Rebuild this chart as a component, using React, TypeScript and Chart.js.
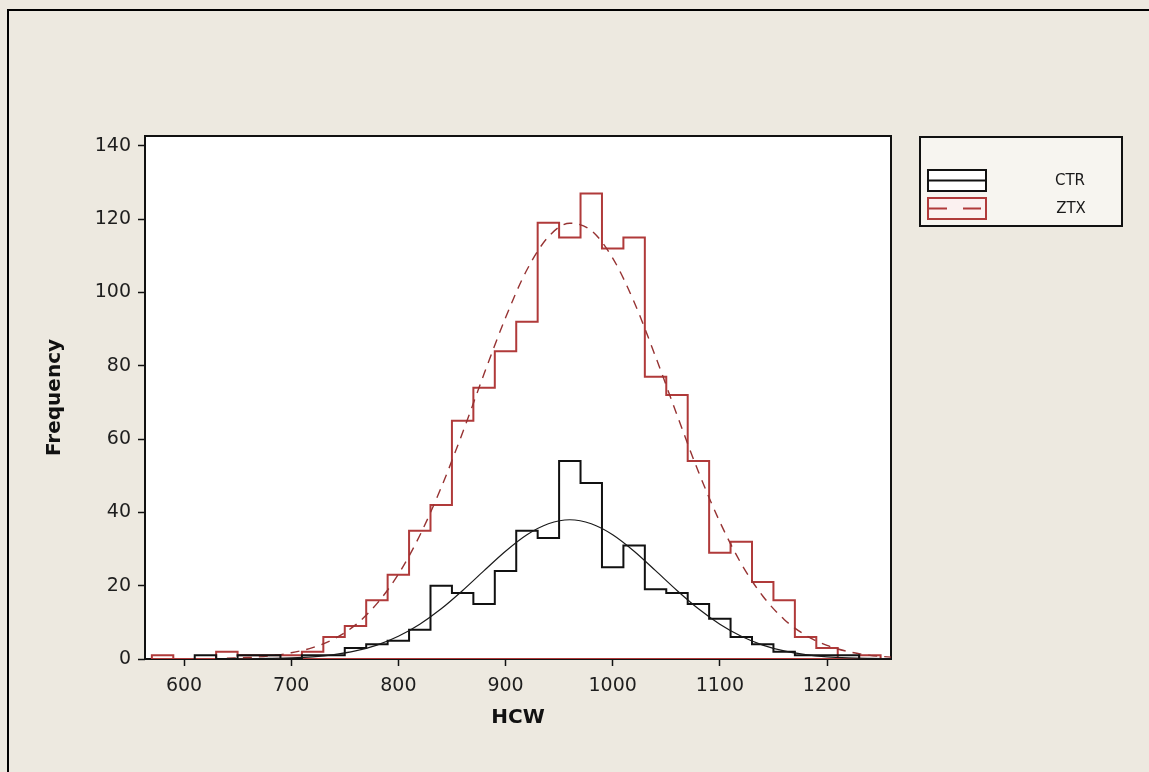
import React, { useEffect, useRef } from "react";
import { Chart, registerables } from "chart.js";

Chart.register(...registerables);

// ---- data ----
const binWidth = 20;
const ztxStart = 570; // first bin edge of ZTX histogram
const ztxCounts = [1, 0, 0, 2, 1, 1, 1, 2, 6, 9, 16, 23, 35, 42, 65, 74, 84, 92, 119, 115, 127, 112, 115, 77, 72, 54, 29, 32, 21, 16, 6, 3, 0, 1];
const ctrStart = 610; // first bin edge of CTR histogram
const ctrCounts = [1, 0, 1, 1, 0, 1, 1, 3, 4, 5, 8, 20, 18, 15, 24, 35, 33, 54, 48, 25, 31, 19, 18, 15, 11, 6, 4, 2, 1, 1, 1];

// fitted normal curves
const curveX = [640, 660, 680, 700, 720, 740, 760, 780, 800, 820, 840, 860, 880, 900, 920, 940, 960, 980, 1000, 1020, 1040, 1060, 1080, 1100, 1120, 1140, 1160, 1180, 1200, 1220, 1240, 1260];
const ctrCurve = [0.03, 0.06, 0.15, 0.3, 0.6, 1.2, 2.2, 3.8, 6.2, 9.5, 13.7, 18.7, 24.1, 29.4, 33.9, 36.9, 38, 36.9, 33.9, 29.4, 24.1, 18.7, 13.7, 9.5, 6.2, 3.8, 2.2, 1.2, 0.6, 0.3, 0.15, 0.06];
const ztxCurve = [0.2, 0.4, 0.85, 1.7, 3.1, 5.5, 9.3, 15.1, 23.1, 33.7, 46.8, 61.8, 77.8, 93.1, 106.2, 115.2, 118.9, 116.9, 109.4, 97.4, 82.5, 66.6, 51.1, 37.4, 26, 17.2, 10.8, 6.5, 3.7, 2, 1, 0.5];

const xTickValues = [600, 700, 800, 900, 1000, 1100, 1200];
const yTickValues = [0, 20, 40, 60, 80, 100, 120, 140];

const seriesNames = ["CTR", "ZTX"];
const xTitle = "HCW";
const yTitle = "Frequency";

const RED = "#B03A3A";
const RED_DASH = "#963232";
const BG = "#EDE9E0";
const FONT = "'DejaVu Sans', Verdana, sans-serif";

function histPoints(start: number, counts: number[], closeBase: boolean) {
  const pts: { x: number; y: number }[] = [{ x: start, y: 0 }];
  counts.forEach((c, i) => pts.push({ x: start + i * binWidth, y: c }));
  const end = start + counts.length * binWidth;
  pts.push({ x: end, y: 0 });
  if (closeBase) pts.push({ x: start, y: 0 });
  return pts;
}

const decor = {
  id: "decor",
  beforeDraw(chart: any) {
    const { ctx, chartArea: a } = chart;
    ctx.save();
    ctx.fillStyle = "#ffffff";
    ctx.fillRect(a.left, a.top, a.right - a.left, a.bottom - a.top);
    ctx.fillStyle = "#000";
    ctx.fillRect(7, 9, 1149 - 7, 2);
    ctx.fillRect(7, 9, 2, 772 - 9);
    ctx.restore();
  },
  beforeDatasetsDraw(chart: any) {
    const { ctx, chartArea: a } = chart;
    ctx.save();
    ctx.strokeStyle = "#111";
    ctx.lineWidth = 2;
    ctx.strokeRect(a.left, a.top, a.right - a.left, a.bottom - a.top);
    ctx.restore();
  },
  afterDraw(chart: any) {
    const { ctx } = chart;
    ctx.save();
    // legend box
    ctx.fillStyle = "#F7F5F0";
    ctx.fillRect(920, 137, 202, 89);
    ctx.strokeStyle = "#111";
    ctx.lineWidth = 2;
    ctx.strokeRect(920, 137, 202, 89);
    // CTR swatch
    ctx.fillStyle = "#fff";
    ctx.fillRect(928, 170, 58, 21);
    ctx.strokeStyle = "#111";
    ctx.lineWidth = 2;
    ctx.strokeRect(928, 170, 58, 21);
    ctx.beginPath();
    ctx.moveTo(928, 180.5);
    ctx.lineTo(986, 180.5);
    ctx.stroke();
    // ZTX swatch
    ctx.fillStyle = "#FBF1F0";
    ctx.fillRect(928, 198, 58, 21);
    ctx.strokeStyle = RED;
    ctx.strokeRect(928, 198, 58, 21);
    ctx.setLineDash([18, 16]);
    ctx.beginPath();
    ctx.moveTo(929, 208.5);
    ctx.lineTo(986, 208.5);
    ctx.stroke();
    ctx.setLineDash([]);
    // labels
    ctx.fillStyle = "#1a1a1a";
    ctx.font = `15px ${FONT}`;
    ctx.textAlign = "center";
    ctx.textBaseline = "middle";
    ctx.fillText(seriesNames[0], 1070, 181);
    ctx.fillText(seriesNames[1], 1071, 209);
    ctx.restore();
  },
};

export default function App() {
  const ref = useRef<HTMLCanvasElement | null>(null);

  useEffect(() => {
    if (!ref.current) return;
    const chart = new Chart(ref.current, {
      type: "line",
      data: {
        datasets: [
          {
            label: "CTR fit",
            data: curveX.map((x, i) => ({ x, y: ctrCurve[i] })),
            borderColor: "#1a1a1a",
            borderWidth: 1.2,
            pointRadius: 0,
            cubicInterpolationMode: "monotone",
            fill: false,
          },
          {
            label: seriesNames[0],
            data: histPoints(ctrStart, ctrCounts, false),
            borderColor: "#111",
            borderWidth: 2,
            pointRadius: 0,
            stepped: true,
            fill: false,
          },
          {
            label: "ZTX fit",
            data: curveX.map((x, i) => ({ x, y: ztxCurve[i] })),
            borderColor: RED_DASH,
            borderWidth: 1.4,
            borderDash: [9, 7],
            pointRadius: 0,
            cubicInterpolationMode: "monotone",
            fill: false,
          },
          {
            label: seriesNames[1],
            data: histPoints(ztxStart, ztxCounts, true),
            borderColor: RED,
            borderWidth: 2,
            pointRadius: 0,
            stepped: true,
            fill: false,
          },
        ],
      },
      options: {
        responsive: false,
        animation: false,
        devicePixelRatio: 1,
        layout: { padding: { left: 0, top: 136, right: 258, bottom: 0 } },
        plugins: {
          legend: { display: false },
          tooltip: { enabled: false },
          title: { display: false },
        },
        scales: {
          x: {
            type: "linear",
            min: 563.6,
            max: 1259.7,
            afterFit: (s: any) => {
              s.height = 113;
            },
            afterBuildTicks: (s: any) => {
              s.ticks = xTickValues.map((v) => ({ value: v }));
            },
            border: { display: false },
            grid: {
              display: true,
              drawOnChartArea: false,
              drawTicks: true,
              tickLength: 7,
              tickColor: "#111",
              tickWidth: 1.5,
            },
            ticks: {
              maxRotation: 0,
              autoSkip: false,
              padding: 9,
              color: "#1e1e1e",
              font: { family: FONT, size: 19 },
              callback: (v: any) => String(v),
            },
            title: {
              display: true,
              text: xTitle,
              color: "#111",
              font: { family: FONT, size: 20, weight: "bold" },
              padding: { top: 0, bottom: 42 },
            },
          },
          y: {
            type: "linear",
            min: 0,
            max: 142.7,
            afterFit: (s: any) => {
              s.width = 145;
            },
            afterBuildTicks: (s: any) => {
              s.ticks = yTickValues.map((v) => ({ value: v }));
            },
            border: { display: false },
            grid: {
              display: true,
              drawOnChartArea: false,
              drawTicks: true,
              tickLength: 7,
              tickColor: "#111",
              tickWidth: 1.5,
            },
            ticks: {
              autoSkip: false,
              padding: 7,
              color: "#1e1e1e",
              font: { family: FONT, size: 19 },
              callback: (v: any) => String(v),
            },
            title: {
              display: true,
              text: yTitle,
              color: "#111",
              font: { family: FONT, size: 20, weight: "bold" },
              padding: { top: 43, bottom: 0 },
            },
          },
        },
      },
      plugins: [decor],
    } as any);
    return () => chart.destroy();
  }, []);

  return (
    <div
      style={{
        position: "fixed",
        left: 0,
        top: 0,
        width: 1149,
        height: 772,
        background: BG,
        overflow: "hidden",
      }}
    >
      <canvas ref={ref} width={1149} height={772} style={{ display: "block", width: 1149, height: 772 }} />
    </div>
  );
}
